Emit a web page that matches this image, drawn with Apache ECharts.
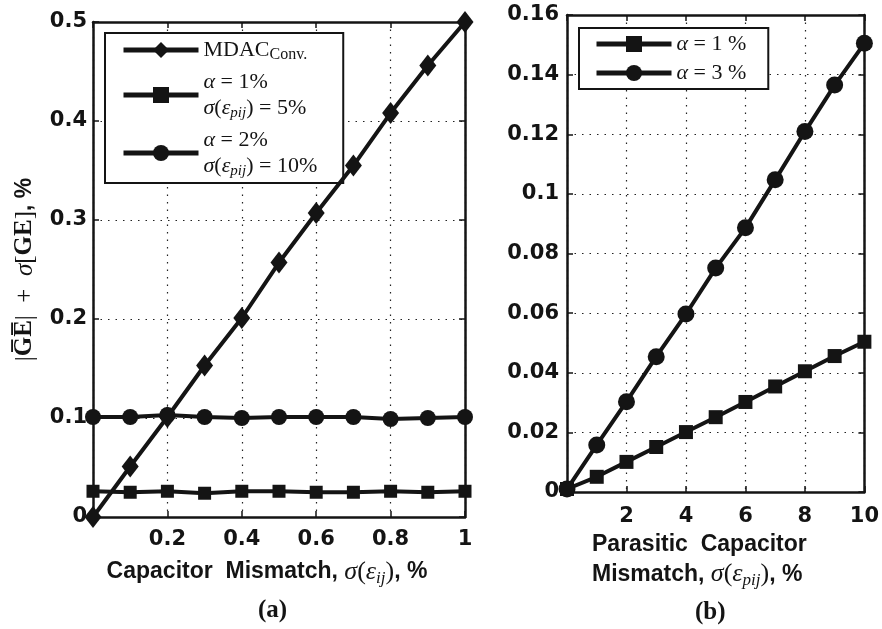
<!DOCTYPE html>
<html>
<head>
<meta charset="utf-8">
<script src="https://cdn.jsdelivr.net/npm/echarts@6/dist/echarts.min.js"></script>
<style>
html,body{margin:0;padding:0;background:#fff;}
#main{width:882px;height:629px;}
</style>
</head>
<body>
<div id="main"></div>
<script>
// (a) capacitor mismatch sweep
let xA=[0,0.1,0.2,0.3,0.4,0.5,0.6,0.7,0.8,0.9,1];
let mdacConv=[0,0.051,0.101,0.153,0.201,0.257,0.307,0.355,0.408,0.456,0.5];
let alpha1=[0.026,0.025,0.026,0.024,0.026,0.026,0.025,0.025,0.026,0.025,0.026];
let alpha2=[0.101,0.101,0.103,0.101,0.1,0.101,0.101,0.101,0.099,0.1,0.101];
let ticksAY=[0,0.1,0.2,0.3,0.4,0.5];
// (b) parasitic capacitor mismatch sweep
let xB=[0,1,2,3,4,5,6,7,8,9,10];
let alphaB1=[0.001,0.0051,0.0101,0.0151,0.0201,0.0251,0.0302,0.0354,0.0405,0.0456,0.0504];
let alphaB3=[0.001,0.0158,0.0303,0.0454,0.0597,0.0751,0.0886,0.1047,0.1209,0.1365,0.1505];
let ticksBY=[0,0.02,0.04,0.06,0.08,0.1,0.12,0.14,0.16];

let ink="#141414";
let sans="'Liberation Sans', Arial, sans-serif";
let tickFont="'DejaVu Sans', sans-serif";
let serif="'Liberation Serif', 'DejaVu Serif', serif";

function pairs(xs,ys){
	return xs.map(function(x,i){return [x,ys[i]];});
}
function fmtNum(v){
	return String(+v.toFixed(2));
}
let mathRich={
	r:{fontFamily:serif,fontSize:22,color:ink,lineHeight:26},
	i:{fontFamily:serif,fontSize:22,fontStyle:"italic",color:ink,lineHeight:26},
	sub:{fontFamily:serif,fontSize:16,color:ink,lineHeight:16,verticalAlign:"bottom"},
	isub:{fontFamily:serif,fontSize:15,fontStyle:"italic",color:ink,lineHeight:15,verticalAlign:"bottom"}
};
// bigger math for axis titles
let nameRich={
	b:{fontFamily:sans,fontWeight:"bold",fontSize:23,color:ink,lineHeight:30},
	r:{fontFamily:serif,fontSize:26,color:ink,lineHeight:30},
	i:{fontFamily:serif,fontSize:26,fontStyle:"italic",color:ink,lineHeight:30},
	isub:{fontFamily:serif,fontSize:17,fontStyle:"italic",color:ink,lineHeight:17,verticalAlign:"bottom"}
};
let legendNames={
	"mdac":"{r|MDAC}{sub|Conv.}",
	"a1":"{i|α}{r| = 1%}\n{i|σ}{r|(}{i|ε}{isub|pij}{r|) = 5%}",
	"a2":"{i|α}{r| = 2%}\n{i|σ}{r|(}{i|ε}{isub|pij}{r|) = 10%}",
	"b1":"{i|α}{r| = 1 %}",
	"b3":"{i|α}{r| = 3 %}"
};

function makeX(min,max,step,gridIndex,top){
	return {
		type:"value",gridIndex:gridIndex,min:min,max:max,interval:step,
		position:top?"top":"bottom",
		axisLine:{show:true,onZero:false,lineStyle:{color:ink,width:2.5}},
		axisTick:{show:true,inside:true,length:6,lineStyle:{color:ink,width:1.5}},
		axisLabel:{show:!top,margin:gridIndex==0?12:14,color:ink,fontFamily:tickFont,fontWeight:"bold",fontSize:21,
			formatter:function(v){return v==0?"":fmtNum(v);}},
		splitLine:{show:!top,lineStyle:{color:"#222",width:1.2,type:[1.5,6]}}
	};
}
function makeY(max,step,gridIndex,right){
	return {
		type:"value",gridIndex:gridIndex,min:0,max:max,interval:step,
		position:right?"right":"left",
		axisLine:{show:true,onZero:false,lineStyle:{color:ink,width:2.5}},
		axisTick:{show:true,inside:true,length:6,lineStyle:{color:ink,width:1.5}},
		axisLabel:{show:!right,margin:gridIndex==0?6:8,color:ink,fontFamily:tickFont,fontWeight:"bold",fontSize:21,
			formatter:fmtNum},
		splitLine:{show:!right,lineStyle:{color:"#222",width:1.2,type:[1.5,6]}}
	};
}
function lineSeries(name,x,y,gi,symbol,size){
	return {
		name:name,type:"line",xAxisIndex:gi*2,yAxisIndex:gi*2,
		data:pairs(x,y),symbol:symbol,symbolSize:size,
		lineStyle:{color:ink,width:4},itemStyle:{color:ink},
		emphasis:{disabled:true},z:5
	};
}

let xa0=makeX(0,1,0.2,0,false);
xa0.name="{b|Capacitor  Mismatch, }{i|σ}{r|(}{i|ε}{isub|ij}{r|)}{b|, %}";
xa0.nameLocation="middle";
xa0.nameGap=40;
xa0.nameTextStyle={padding:[0,24,0,0],rich:nameRich};

let ya0=makeY(0.5,0.1,0,false);
ya0.name="{r||}{g|G\u0305E\u0305}{r||}{r|  +  }{i|σ}{r|[}{g|GE}{r|]}{b|, %}";
ya0.nameLocation="middle";
ya0.nameGap=54;
ya0.nameRotate=90;
ya0.nameTextStyle={rich:{
	b:{fontFamily:sans,fontWeight:"bold",fontSize:23,color:ink,lineHeight:28},
	g:{fontFamily:serif,fontWeight:"bold",fontSize:25,color:ink,lineHeight:28},
	r:{fontFamily:serif,fontSize:25,color:ink,lineHeight:28},
	i:{fontFamily:serif,fontSize:25,fontStyle:"italic",color:ink,lineHeight:28}}};

let legendBase={
	orient:"vertical",itemWidth:75,itemHeight:20,
	backgroundColor:"#fff",borderColor:ink,borderWidth:2,borderRadius:0,
	selectedMode:false,
	lineStyle:{width:5,color:ink},
	formatter:function(n){return legendNames[n];},
	textStyle:{rich:mathRich}
};

var myChart=echarts.init(document.getElementById("main"),null,{renderer:"canvas"});
let option={
	animation:false,
	backgroundColor:"#fff",
	grid:[
		{left:93,right:417,top:22,bottom:112,show:false},
		{left:567,right:17,top:15,bottom:137,show:false}
	],
	xAxis:[xa0,makeX(0,1,0.2,0,true),makeX(0,10,2,1,false),makeX(0,10,2,1,true)],
	yAxis:[ya0,makeY(0.5,0.1,0,true),makeY(0.16,0.02,1,false),makeY(0.16,0.02,1,true)],
	legend:[
		Object.assign({},legendBase,{data:["mdac","a1","a2"],left:105,top:33,padding:[6,26,4,16],itemGap:8}),
		Object.assign({},legendBase,{data:["b1","b3"],left:579,top:28,padding:[5,22,5,15],itemGap:7})
	],
	series:[
		lineSeries("a1",xA,alpha1,0,"rect",13),
		lineSeries("a2",xA,alpha2,0,"circle",16),
		lineSeries("mdac",xA,mdacConv,0,"diamond",[17,22]),
		lineSeries("b1",xB,alphaB1,1,"rect",14),
		lineSeries("b3",xB,alphaB3,1,"circle",17)
	],
	graphic:[
		{type:"text",left:592,top:533,style:{
			text:"{b|Parasitic  Capacitor}\n{b|Mismatch, }{i|σ}{r|(}{i|ε}{isub|pij}{r|)}{b|, %}",
			rich:{
				b:{fontFamily:sans,fontWeight:"bold",fontSize:23,fill:ink,lineHeight:30},
				r:{fontFamily:serif,fontSize:26,fill:ink,lineHeight:30},
				i:{fontFamily:serif,fontSize:26,fontStyle:"italic",fill:ink,lineHeight:30},
				isub:{fontFamily:serif,fontSize:17,fontStyle:"italic",fill:ink,lineHeight:17,verticalAlign:"bottom"}
			}
		}},
		{type:"text",left:258,top:598,style:{text:"(a)",font:"bold 25px "+serif,fill:ink}},
		{type:"text",left:695,top:600,style:{text:"(b)",font:"bold 25px "+serif,fill:ink}}
	]
};
myChart.setOption(option);
</script>
</body>
</html>
